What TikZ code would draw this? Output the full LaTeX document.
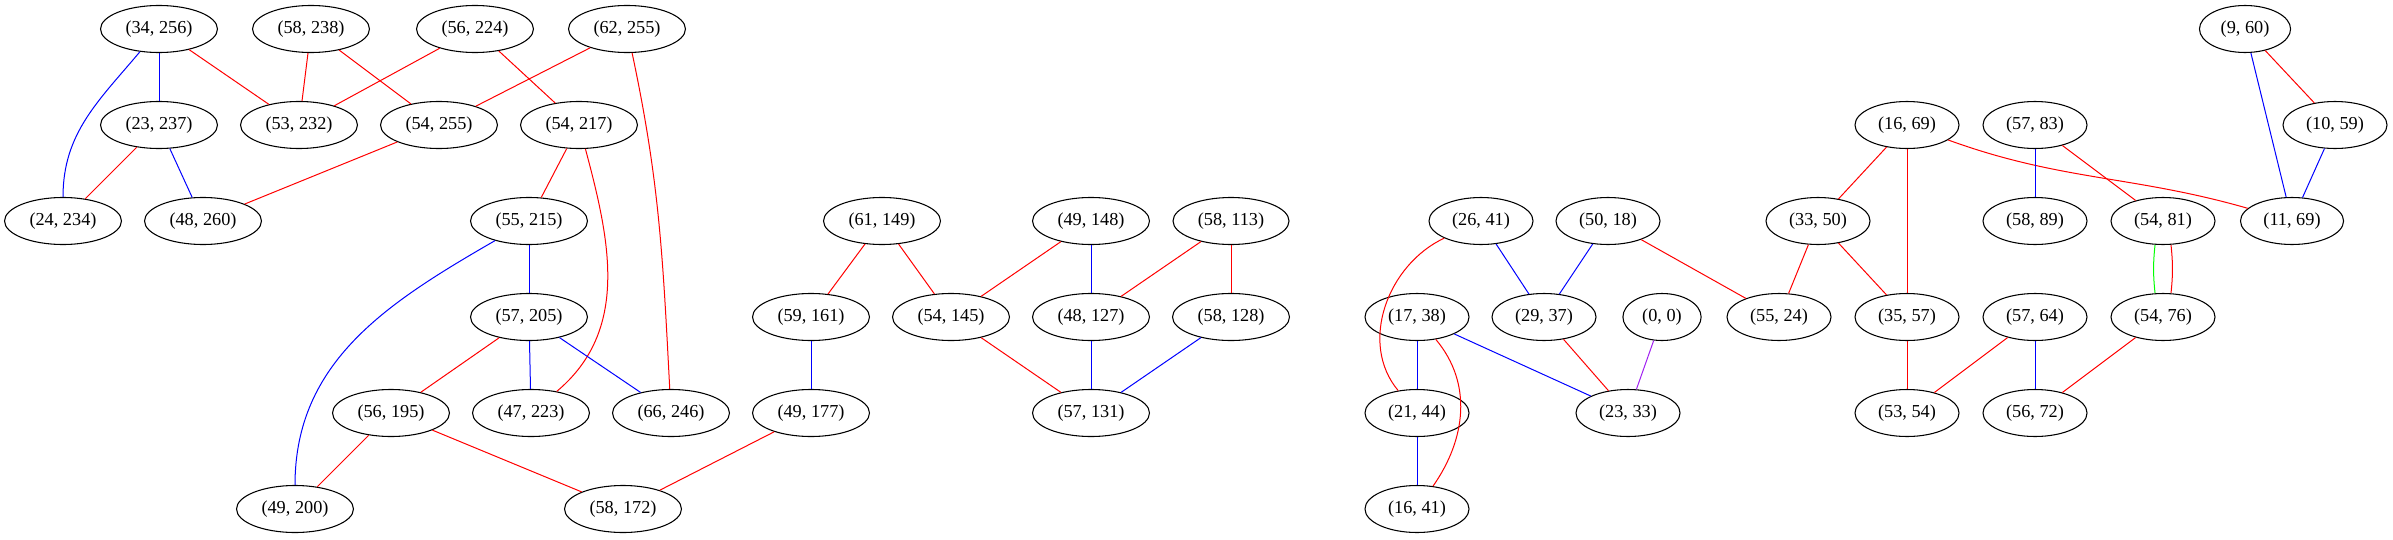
\documentclass[tikz,border=0pt]{standalone}
\usepackage{xcolor}
\usepackage{fontspec}
\usepackage{tikz}
\usetikzlibrary{shapes.geometric}
\setmainfont{Liberation Serif}
\definecolor{gvpurple}{RGB}{160,32,240}
\definecolor{gvgreen}{RGB}{0,255,0}

\begin{document}
\begin{tikzpicture}[x=0.75pt,y=-0.75pt,
    every node/.style={ellipse,draw,line width=0.8pt,inner xsep=5.9pt,inner ysep=1pt,minimum height=35.25pt,font=\fontsize{13.7}{16}\selectfont},
    redline/.style={draw=red,line width=0.75pt},
    blueline/.style={draw=blue,line width=0.75pt},
    greenline/.style={draw=gvgreen,line width=0.75pt},
    purpleline/.style={draw=gvpurple,line width=0.75pt}]
    \useasboundingbox (0,0) rectangle (2393,539);
    % first group
    \node (n34x256) at (159,29) {(34, 256)};
    \node (n58x238) at (311,29) {(58, 238)};
    \node (n56x224) at (475,29) {(56, 224)};
    \node (n62x255) at (627,29) {(62, 255)};
    \node (n23x237) at (159,125) {(23, 237)};
    \node (n53x232) at (299,125) {(53, 232)};
    \node (n54x255) at (439,125) {(54, 255)};
    \node (n54x217) at (579,125) {(54, 217)};
    \node (n24x234) at (63,221) {(24, 234)};
    \node (n48x260) at (203,221) {(48, 260)};
    \node (n55x215) at (529,221) {(55, 215)};
    \node (n57x205) at (529,317) {(57, 205)};
    \node (n56x195) at (391,413) {(56, 195)};
    \node (n47x223) at (531,413) {(47, 223)};
    \node (n66x246) at (671,413) {(66, 246)};
    \node (n49x200) at (295,509) {(49, 200)};
    \node (n58x172) at (623,509) {(58, 172)};
    % second group
    \node (n61x149) at (882,221) {(61, 149)};
    \node (n49x148) at (1091,221) {(49, 148)};
    \node (n58x113) at (1231,221) {(58, 113)};
    \node (n59x161) at (811,317) {(59, 161)};
    \node (n54x145) at (951,317) {(54, 145)};
    \node (n48x127) at (1091,317) {(48, 127)};
    \node (n58x128) at (1231,317) {(58, 128)};
    \node (n49x177) at (811,413) {(49, 177)};
    \node (n57x131) at (1091,413) {(57, 131)};
    % third group
    \node (n9x60) at (2245,29) {(9, 60)};
    \node (n16x69) at (1907,125) {(16, 69)};
    \node (n57x83) at (2035,125) {(57, 83)};
    \node (n10x59) at (2335,125) {(10, 59)};
    \node (n26x41) at (1481,221) {(26, 41)};
    \node (n50x18) at (1608,221) {(50, 18)};
    \node (n33x50) at (1818,221) {(33, 50)};
    \node (n58x89) at (2035,221) {(58, 89)};
    \node (n54x81) at (2163,221) {(54, 81)};
    \node (n11x69) at (2292,221) {(11, 69)};
    \node (n17x38) at (1417,317) {(17, 38)};
    \node (n29x37) at (1544,317) {(29, 37)};
    \node (n0x0) at (1662,317) {(0, 0)};
    \node (n55x24) at (1779,317) {(55, 24)};
    \node (n35x57) at (1907,317) {(35, 57)};
    \node (n57x64) at (2035,317) {(57, 64)};
    \node (n54x76) at (2163,317) {(54, 76)};
    \node (n21x44) at (1417,413) {(21, 44)};
    \node (n23x33) at (1628,413) {(23, 33)};
    \node (n53x54) at (1907,413) {(53, 54)};
    \node (n56x72) at (2035,413) {(56, 72)};
    \node (n16x41) at (1417,509) {(16, 41)};

    % edges, first group
    \draw[blueline] (n34x256) -- (n23x237);
    \draw[blueline] (n34x256) to[out=-130,in=90] (n24x234);
    \draw[redline] (n34x256) -- (n53x232);
    \draw[redline] (n58x238) -- (n53x232);
    \draw[redline] (n58x238) -- (n54x255);
    \draw[redline] (n56x224) -- (n53x232);
    \draw[redline] (n56x224) -- (n54x217);
    \draw[redline] (n62x255) -- (n54x255);
    \draw[redline] (n62x255) to[out=-78,in=93] (n66x246);
    \draw[redline] (n23x237) -- (n24x234);
    \draw[blueline] (n23x237) -- (n48x260);
    \draw[redline] (n54x255) -- (n48x260);
    \draw[redline] (n54x217) -- (n55x215);
    \draw[redline] (n54x217) to[out=-75,in=40] (n47x223);
    \draw[blueline] (n55x215) -- (n57x205);
    \draw[blueline] (n55x215) to[out=-150,in=90] (n49x200);
    \draw[redline] (n57x205) -- (n56x195);
    \draw[blueline] (n57x205) -- (n47x223);
    \draw[blueline] (n57x205) -- (n66x246);
    \draw[redline] (n56x195) -- (n49x200);
    \draw[redline] (n56x195) -- (n58x172);
    \draw[redline] (n49x177) -- (n58x172);
    % edges, second group
    \draw[redline] (n61x149) -- (n59x161);
    \draw[redline] (n61x149) -- (n54x145);
    \draw[redline] (n49x148) -- (n54x145);
    \draw[blueline] (n49x148) -- (n48x127);
    \draw[redline] (n58x113) -- (n48x127);
    \draw[redline] (n58x113) -- (n58x128);
    \draw[blueline] (n59x161) -- (n49x177);
    \draw[redline] (n54x145) -- (n57x131);
    \draw[blueline] (n48x127) -- (n57x131);
    \draw[blueline] (n58x128) -- (n57x131);
    % edges, third group
    \draw[redline] (n26x41) to[out=-155,in=130] (n21x44);
    \draw[blueline] (n26x41) -- (n29x37);
    \draw[blueline] (n50x18) -- (n29x37);
    \draw[redline] (n50x18) -- (n55x24);
    \draw[blueline] (n17x38) -- (n21x44);
    \draw[blueline] (n17x38) -- (n23x33);
    \draw[redline] (n17x38) to[out=-50,in=55] (n16x41);
    \draw[redline] (n29x37) -- (n23x33);
    \draw[purpleline] (n0x0) -- (n23x33);
    \draw[blueline] (n21x44) -- (n16x41);
    \draw[redline] (n16x69) -- (n33x50);
    \draw[redline] (n16x69) -- (n35x57);
    \draw[redline] (n16x69) to[out=-20,in=164] (n11x69);
    \draw[blueline] (n57x83) -- (n58x89);
    \draw[redline] (n57x83) -- (n54x81);
    \draw[blueline] (n9x60) -- (n11x69);
    \draw[redline] (n9x60) -- (n10x59);
    \draw[blueline] (n10x59) -- (n11x69);
    \draw[redline] (n33x50) -- (n55x24);
    \draw[redline] (n33x50) -- (n35x57);
    \draw[greenline] ([xshift=-6pt]n54x81.south) to[bend right=6] ([xshift=-6pt]n54x76.north);
    \draw[redline] ([xshift=6pt]n54x81.south) to[bend left=6] ([xshift=6pt]n54x76.north);
    \draw[redline] (n35x57) -- (n53x54);
    \draw[redline] (n57x64) -- (n53x54);
    \draw[blueline] (n57x64) -- (n56x72);
    \draw[redline] (n54x76) -- (n56x72);
  \end{tikzpicture}
\end{document}
